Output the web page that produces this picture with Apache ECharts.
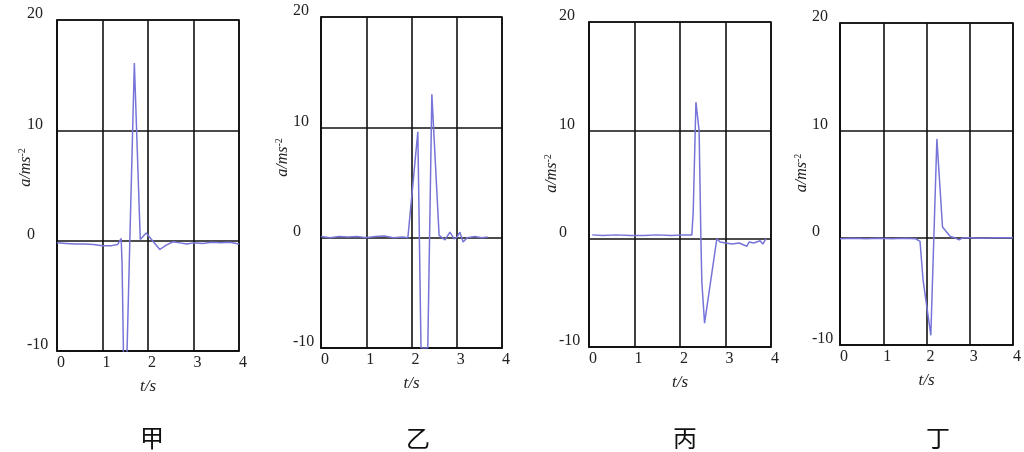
<!DOCTYPE html>
<html>
<head>
<meta charset="utf-8">
<script src="https://cdn.jsdelivr.net/npm/echarts@6/dist/echarts.min.js"></script>
<style>
  html, body { margin: 0; padding: 0; background: #fff; }
  #chart { width: 1024px; height: 452px; }
</style>
</head>
<body>
<div id="chart"></div>
<script>
const panelNames = ['甲', '乙', '丙', '丁'];
const xTicks = [0, 1, 2, 3, 4];
const yTicks = [-10, 0, 10, 20];

// 甲
const jiaT = [0, 0.2, 0.4, 0.6, 0.8, 1.0, 1.2, 1.33, 1.41, 1.43, 1.49, 1.70, 1.72, 1.83, 1.96, 2.1, 2.26, 2.4, 2.55, 2.7, 2.85, 3.0, 3.2, 3.4, 3.6, 3.8, 4.0];
const jiaA = [-0.2, -0.25, -0.3, -0.3, -0.35, -0.45, -0.45, -0.35, 0.2, -2, -18, 16.1, 16.1, 0.1, 0.7, 0, -0.8, -0.4, -0.1, -0.2, -0.3, -0.2, -0.25, -0.15, -0.2, -0.15, -0.3];
// 乙
const yiT = [0, 0.2, 0.4, 0.6, 0.8, 1.0, 1.2, 1.4, 1.6, 1.8, 1.92, 2.14, 2.21, 2.36, 2.45, 2.61, 2.74, 2.85, 2.94, 3.0, 3.07, 3.14, 3.23, 3.4, 3.55, 3.68];
const yiA = [0.1, 0, 0.1, 0.05, 0.1, 0, 0.1, 0.15, 0, 0.05, 0, 9.6, -10, -10, 13.0, 0.2, -0.2, 0.5, -0.1, 0, 0.5, -0.4, 0, 0.1, 0, 0.05];
// 丙
const bingT = [0.07, 0.3, 0.6, 0.9, 1.2, 1.5, 1.8, 2.1, 2.26, 2.29, 2.35, 2.42, 2.46, 2.48, 2.54, 2.81, 2.88, 3.0, 3.15, 3.3, 3.47, 3.52, 3.62, 3.76, 3.82, 3.89];
const bingA = [0.35, 0.3, 0.35, 0.3, 0.3, 0.35, 0.3, 0.35, 0.35, 2.4, 12.6, 10, -0.1, -4, -7.8, 0, -0.3, -0.4, -0.5, -0.4, -0.7, -0.3, -0.4, -0.2, -0.5, 0];
// 丁
const dingT = [0, 0.3, 0.6, 0.9, 1.2, 1.5, 1.75, 1.85, 1.92, 2.1, 2.24, 2.37, 2.55, 2.65, 2.75, 2.85, 3.0, 3.3, 3.6, 4.0];
const dingA = [-0.1, -0.05, -0.1, -0.05, -0.1, -0.05, -0.1, -0.35, -3.9, -9.1, 9.2, 1.0, 0.1, 0, -0.2, 0, 0, -0.05, 0, 0];

const panels = [
  { t: jiaT, a: jiaA, grid: { left: 57, top: 20, width: 182, height: 331 }, labelX: 147, yMargin: 30, nameGap: 22, namePad: 36 },
  { t: yiT, a: yiA, grid: { left: 321, top: 17, width: 181, height: 331 }, labelX: 413, yMargin: 28, nameGap: 29, namePad: 50 },
  { t: bingT, a: bingA, grid: { left: 589, top: 22, width: 182, height: 325 }, labelX: 680, yMargin: 30, nameGap: 28, namePad: 22 },
  { t: dingT, a: dingA, grid: { left: 840, top: 23, width: 177, height: 322 }, labelX: 933, yMargin: 28, nameGap: 29, namePad: 22 }
];

const serif = '"Liberation Serif", "DejaVu Serif", serif';
const lineStyle = { color: '#111', width: 1.6 };

const chart = echarts.init(document.getElementById('chart'));

chart.setOption({
  animation: false,
  backgroundColor: '#fff',
  title: panels.map((p, i) => ({
    text: panelNames[i],
    left: p.labelX,
    top: 421,
    textAlign: 'center',
    textStyle: { fontFamily: '"Noto Sans CJK SC"', fontWeight: 'normal', fontSize: 24, color: '#111' }
  })),
  grid: panels.map((p) => ({ ...p.grid, show: true, borderColor: '#111', borderWidth: 1.6 })),
  xAxis: panels.map((p, i) => ({
    type: 'value',
    gridIndex: i,
    min: xTicks[0],
    max: xTicks[xTicks.length - 1],
    interval: 1,
    name: 't/s',
    nameLocation: 'middle',
    nameGap: 27,
    nameMoveOverlap: false,
    nameTextStyle: { fontFamily: serif, fontStyle: 'italic', fontSize: 17, color: '#222' },
    axisLine: { show: true, onZero: false, lineStyle },
    axisTick: { show: false },
    axisLabel: { margin: 4, fontFamily: serif, fontSize: 16, color: '#222', padding: [0, 0, 0, 8] },
    splitLine: { show: true, lineStyle }
  })),
  yAxis: panels.map((p, i) => ({
    type: 'value',
    gridIndex: i,
    min: yTicks[0],
    max: yTicks[yTicks.length - 1],
    interval: 10,
    name: '{i|a/ms}{s|-2}',
    nameLocation: 'middle',
    nameGap: p.nameGap,
    nameMoveOverlap: false,
    nameTextStyle: {
      padding: [0, 0, 0, p.namePad],
      rich: {
        i: { fontFamily: serif, fontStyle: 'italic', fontSize: 16, color: '#222', lineHeight: 18 },
        s: { fontFamily: serif, fontSize: 10, color: '#222', verticalAlign: 'top', lineHeight: 18 }
      }
    },
    axisLine: { show: true, lineStyle },
    axisTick: { show: false },
    axisLabel: { margin: p.yMargin, align: 'left', verticalAlign: 'bottom', lineHeight: 12, fontFamily: serif, fontSize: 16, color: '#222' },
    splitLine: { show: true, lineStyle }
  })),
  series: panels.map((p, i) => ({
    type: 'line',
    xAxisIndex: i,
    yAxisIndex: i,
    data: p.t.map((t, k) => [t, p.a[k]]),
    symbol: 'none',
    clip: true,
    lineStyle: { color: '#7674d8', width: 1.5 },
    z: 3
  }))
});
</script>
</body>
</html>
